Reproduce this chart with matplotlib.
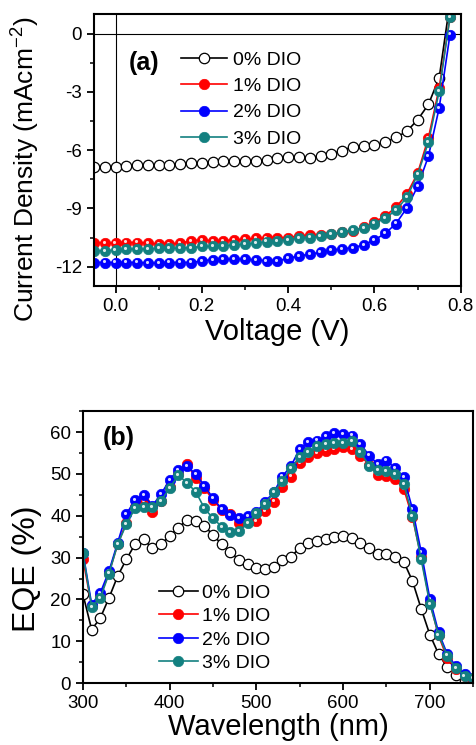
import numpy as np
import matplotlib.pyplot as plt
from matplotlib import transforms
from matplotlib.ticker import MultipleLocator, AutoMinorLocator

plt.rcParams['font.family'] = ['Liberation Sans', 'DejaVu Sans']
plt.rcParams['axes.unicode_minus'] = False
plt.rcParams['mathtext.default'] = 'regular'

# ---- (a) J-V data ----
voltage = np.arange(-0.05, 0.78, 0.025)
j_0 = [-6.88, -6.85, -6.85, -6.83, -6.78, -6.75, -6.75, -6.75, -6.70, -6.66,
       -6.66, -6.63, -6.57, -6.54, -6.54, -6.54, -6.49, -6.40, -6.33, -6.33,
       -6.39, -6.30, -6.20, -6.02, -5.82, -5.77, -5.73, -5.59, -5.35, -5.03,
       -4.44, -3.65, -2.27, 1.6]
j_1 = [-10.76, -10.79, -10.79, -10.76, -10.76, -10.79, -10.84, -10.84, -10.79, -10.67,
       -10.62, -10.67, -10.67, -10.62, -10.59, -10.55, -10.53, -10.53, -10.50, -10.41,
       -10.38, -10.38, -10.33, -10.24, -10.15, -9.98, -9.72, -9.38, -8.95, -8.26,
       -7.19, -5.37, -2.79, 0.86]
j_2 = [-11.79, -11.79, -11.79, -11.79, -11.79, -11.82, -11.82, -11.79, -11.79, -11.79,
       -11.70, -11.65, -11.62, -11.62, -11.62, -11.65, -11.70, -11.70, -11.57, -11.45,
       -11.36, -11.27, -11.14, -11.10, -11.02, -10.88, -10.62, -10.29, -9.78, -8.98,
       -7.87, -6.32, -3.82, -0.05]
j_3 = [-11.19, -11.19, -11.15, -11.10, -11.10, -11.10, -11.05, -11.05, -11.05, -11.02,
       -10.96, -10.96, -10.93, -10.88, -10.84, -10.79, -10.71, -10.67, -10.62, -10.53,
       -10.50, -10.41, -10.33, -10.24, -10.12, -10.03, -9.78, -9.50, -9.09, -8.43,
       -7.26, -5.59, -2.96, 0.86]

# ---- (b) EQE data ----
wavelength = np.arange(300, 751, 10)
eqe_0 = [21.2, 12.8, 15.6, 20.4, 25.6, 29.6, 33.2, 34.4, 32.2, 33.2,
         35.2, 37.2, 39.0, 38.8, 37.6, 35.4, 33.2, 31.4, 29.4, 28.4,
         27.6, 27.4, 27.8, 29.4, 30.2, 32.4, 33.4, 34.0, 34.4, 35.0,
         35.2, 34.8, 33.4, 32.2, 30.8, 30.8, 30.2, 29.0, 24.4, 17.8,
         11.6, 7.0, 3.8, 2.0, 0.8, 0.0]
eqe_1 = [29.6, 18.4, 20.8, 26.4, 33.2, 38.4, 42.0, 43.4, 40.8, 43.6,
         47.0, 50.0, 52.4, 49.0, 46.6, 43.8, 41.4, 40.4, 38.4, 39.0,
         38.8, 41.2, 43.4, 47.0, 49.4, 52.6, 54.0, 55.0, 55.6, 56.0,
         56.4, 56.0, 54.4, 52.2, 49.8, 49.6, 48.8, 46.4, 39.6, 30.2,
         19.4, 11.4, 6.0, 3.4, 1.8, 0.8]
eqe_2 = [31.2, 18.8, 21.6, 26.8, 33.6, 40.4, 43.8, 45.0, 42.4, 45.2,
         48.6, 51.0, 51.8, 50.0, 47.2, 44.2, 41.6, 40.2, 39.4, 40.0,
         40.8, 43.4, 45.6, 49.4, 52.0, 56.0, 57.6, 58.0, 59.0, 59.8,
         59.6, 59.2, 57.2, 54.4, 52.4, 53.2, 51.4, 49.2, 41.6, 31.4,
         20.2, 12.2, 7.0, 4.0, 2.2, 1.2]
eqe_3 = [31.0, 18.2, 20.4, 26.2, 33.2, 38.0, 41.8, 42.0, 42.0, 43.6,
         46.6, 49.8, 47.8, 45.8, 41.8, 39.4, 37.4, 36.2, 36.4, 38.2,
         40.6, 42.8, 45.6, 48.4, 51.4, 54.0, 55.2, 56.6, 57.2, 57.4,
         57.4, 57.8, 55.2, 52.0, 51.0, 50.8, 50.0, 47.6, 40.0, 29.6,
         19.0, 11.6, 6.6, 3.6, 1.8, 1.2]

labels = ['0% DIO', '1% DIO', '2% DIO', '3% DIO']
colors = ['k', '#ff0000', '#0000ff', '#138080']


def draw(ax, x, ys, ms):
    for i, y in enumerate(ys):
        if i == 0:
            ax.plot(x, y, '-o', color='k', lw=1.2, ms=ms, mfc='white',
                    mec='k', mew=0.9, label=labels[i])
        else:
            ax.plot(x, y, '-o', color=colors[i], lw=1.2, ms=ms,
                    mfc=colors[i], mec=colors[i], mew=0.5, label=labels[i])
            # small glossy highlight on the filled balls
            hl = transforms.offset_copy(ax.transData, fig=ax.figure,
                                        x=-0.8, y=0.8, units='points')
            ax.plot(x, y, 'o', ms=ms * 0.3, color='white', alpha=0.85,
                    mec='none', transform=hl)


def style(ax):
    for s in ax.spines.values():
        s.set_linewidth(1.5)
    ax.tick_params(which='major', direction='out', length=5, width=1.3,
                   labelsize=13.5)
    ax.tick_params(which='minor', direction='out', length=3, width=1.1)
    ax.xaxis.set_minor_locator(AutoMinorLocator(2))
    ax.yaxis.set_minor_locator(AutoMinorLocator(2))


fig = plt.figure(figsize=(4.77, 7.45), dpi=100)

# (a)
ax1 = fig.add_axes([0.197, 0.616, 0.769, 0.365])
ax1.axhline(0, color='k', lw=0.8, zorder=0)
ax1.axvline(0, color='k', lw=0.8, zorder=0)
draw(ax1, voltage, [j_0, j_1, j_2, j_3], 7.5)
ax1.set_xlim(-0.05, 0.8)
ax1.set_ylim(-13, 1)
ax1.xaxis.set_major_locator(MultipleLocator(0.2))
ax1.yaxis.set_major_locator(MultipleLocator(3))
ax1.xaxis.set_major_formatter(plt.FuncFormatter(lambda v, p: '%.1f' % v))
ax1.set_xlabel('Voltage (V)', fontsize=21, labelpad=2)
ax1.set_ylabel('Current Density (mAcm$^{-2}$)', fontsize=19)
ax1.yaxis.set_label_coords(-0.142, 0.43)
style(ax1)
ax1.text(0.095, 0.82, '(a)', transform=ax1.transAxes, fontsize=18,
         fontweight='bold', va='center')
ax1.legend(loc='upper left', bbox_to_anchor=(0.21, 0.90), frameon=False,
           fontsize=14, handlelength=2.4, handletextpad=0.3,
           labelspacing=0.45, borderpad=0)

# (b)
ax2 = fig.add_axes([0.174, 0.083, 0.818, 0.365])
draw(ax2, wavelength, [eqe_0, eqe_1, eqe_2, eqe_3], 7.5)
ax2.set_xlim(300, 750)
ax2.set_ylim(0, 65)
ax2.xaxis.set_major_locator(MultipleLocator(100))
ax2.yaxis.set_major_locator(MultipleLocator(10))
ax2.set_xlabel('Wavelength (nm)', fontsize=21, labelpad=1)
ax2.set_ylabel('EQE (%)', fontsize=23)
ax2.yaxis.set_label_coords(-0.105, 0.42)
style(ax2)
ax2.text(0.05, 0.90, '(b)', transform=ax2.transAxes, fontsize=18,
         fontweight='bold', va='center')
ax2.legend(loc='upper left', bbox_to_anchor=(0.17, 0.40), frameon=False,
           fontsize=14, handlelength=2.0, handletextpad=0.2,
           labelspacing=0.3, borderpad=0)

fig.savefig('out.png', dpi=100)
